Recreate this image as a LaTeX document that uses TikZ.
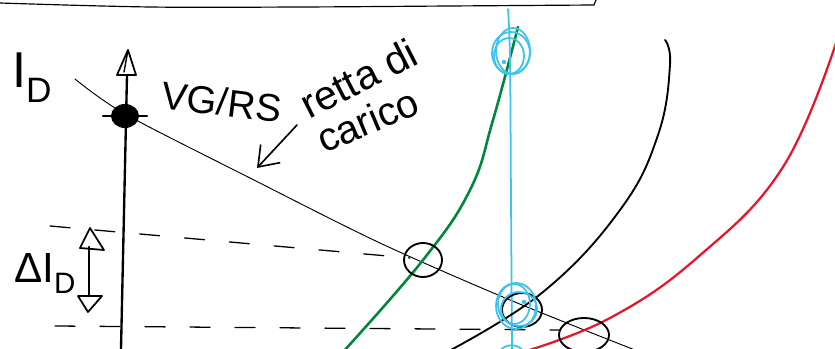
\documentclass[tikz,border=0pt]{standalone}
\usepackage{fontspec}
\setmainfont{Liberation Sans}
\usetikzlibrary{arrows.meta}
\definecolor{cgreen}{RGB}{0,135,60}
\definecolor{ccyan}{RGB}{60,195,240}
\definecolor{cred}{RGB}{232,20,40}
\begin{document}
\begin{tikzpicture}[x=0.03cm,y=-0.03cm,line cap=round,line join=round,
  pen/.style={line width=1.6pt},
  thinpen/.style={line width=0.8pt},
  axispen/.style={line width=2pt},
  dashpen/.style={line width=1.1pt,dash pattern=on 0.6cm off 0.75cm},
  hand/.style={inner sep=0pt,font=\fontsize{36}{40}\selectfont},
  ring/.style={line width=1.6pt},
  cring/.style={line width=1.5pt,ccyan}]
\useasboundingbox (0,0) rectangle (835,349);
\fill[white] (0,0) rectangle (835,349);
\clip (0,0) rectangle (835,349);

% top border line
\draw[line width=1pt] plot[smooth,tension=0.6] coordinates {(0,3) (150,7) (300,7) (450,6) (594,5)} -- (596,0);

% vertical axis
\coordinate (axtop) at (127,75);
\coordinate (axbot) at (121,349);
\draw[axispen] (axtop) -- (axbot);
\draw[line width=1.5pt] (128,50) -- (117,75) -- (136,75) -- cycle;
\draw[line width=1.2pt] (128,50) -- (124,72);

% load line
\draw[thinpen] plot[smooth,tension=0.5] coordinates {(75,79) (125,114) (250,178) (380,243) (510,300) (640,352)};

% filled operating point on axis
\fill (125,116) ellipse [x radius=14,y radius=12];
\draw[line width=2pt] (103,116) -- (147,116);

% dashed projection lines
\coordinate (dA1) at (50,226);
\coordinate (dA2) at (410,258);
\coordinate (dB1) at (55,326);
\coordinate (dB2) at (560,330);
\draw[dashpen] (dA1) -- (dA2);
\draw[dashpen] (dB1) -- (dB2);

% green curve
\draw[cgreen,line width=2.2pt] plot[smooth,tension=0.7] coordinates {(343,352) (423,260) (470,190) (493,120) (518,27)};

% cyan vertical line
\draw[ccyan,line width=1.5pt] plot[smooth,tension=0.6] coordinates {(508,9) (510,60) (511,200) (512,352)};

% black curve
\draw[pen] plot[smooth,tension=0.7] coordinates {(447,352) (543,292) (620,210) (658,135) (670,65) (665,40)};

% red curve
\draw[cred,line width=1.9pt] plot[smooth,tension=0.7] coordinates {(523,352) (610,318) (698,257) (783,167) (837,40)};

% black rings
\draw[ring] (423,260) ellipse [x radius=19,y radius=17];
\draw[ring] (522,310) ellipse [x radius=20,y radius=17];
\draw[ring] (584,335) ellipse [x radius=25,y radius=17];

% cyan rings top
\draw[cring] (511,53) ellipse [x radius=19,y radius=21];
\draw[cring] (509,56) ellipse [x radius=15,y radius=18];
\draw[cring] (513,51) ellipse [x radius=17,y radius=23];
\fill[ccyan] (504,62) circle [radius=2.2];
% cyan rings bottom
\draw[cring] (516,306) ellipse [x radius=20,y radius=23];
\draw[cring] (514,304) ellipse [x radius=16,y radius=20];
\draw[cring] (519,309) ellipse [x radius=18,y radius=17];
\fill[ccyan] (524,302) circle [radius=2.2];
\draw[cring] (499,352) .. controls (505,343) and (518,343) .. (524,352);

% Delta I_D double arrow
\coordinate (daTop) at (89,247);
\coordinate (daBot) at (89,296);
\draw[axispen] (daTop) -- (daBot);
\draw[line width=1.5pt] (90,228) -- (80,248) -- (104,250) -- cycle;
\draw[line width=1.5pt] (78,296) -- (102,296) -- (88,312) -- cycle;

% arrow to load line
\coordinate (arS) at (297,125);
\coordinate (arE) at (257,168);
\draw[line width=1.4pt,-{Straight Barb[length=0.55cm,width=0.8cm,line width=1.4pt]}] (arS) -- (arE);

% texts
\node[hand,anchor=base west,font=\fontsize{43}{46}\selectfont] (id) at (12,88) {I\textsubscript{D}};
\node[hand,anchor=base west] (did) at (14,283) {ΔI\textsubscript{D}};
\node[hand,anchor=base west,rotate=-7,font=\fontsize{33}{36}\selectfont] (vgrs) at (160,108) {VG/RS};
\node[hand,anchor=base west,rotate=27,font=\fontsize{35}{38}\selectfont] (retta) at (309,120) {retta di};
\node[hand,anchor=base west,rotate=23,font=\fontsize{34}{38}\selectfont] (carico) at (324,154) {carico};
\end{tikzpicture}
\end{document}
